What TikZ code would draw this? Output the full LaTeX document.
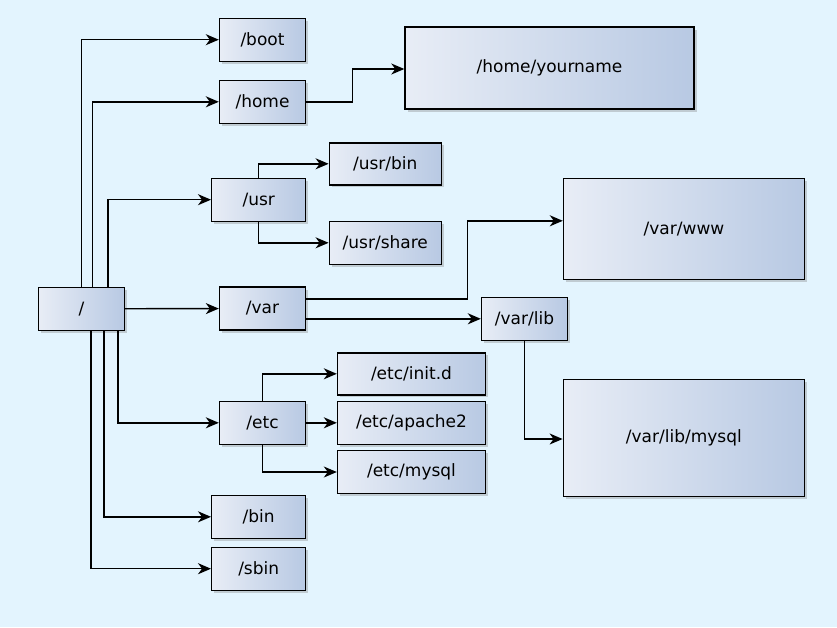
\documentclass[tikz,border=0pt]{standalone}
\usepackage{fontspec}
\setmainfont{DejaVu Sans}
\usetikzlibrary{arrows.meta,shadows}
\definecolor{bgblue}{HTML}{E3F4FE}
\definecolor{boxleft}{HTML}{E8EDF6}
\definecolor{boxright}{HTML}{B8C9E3}
\begin{document}
\begin{tikzpicture}[x=1pt,y=-1pt,
    dir/.style={draw=black, line width=1.4pt, left color=boxleft, right color=boxright,
        drop shadow={shadow xshift=2.5pt, shadow yshift=-2.5pt, opacity=0.35},
        font=\fontsize{17}{20}\selectfont, inner sep=0pt},
    link/.style={draw=black, line width=1.4pt, -{Stealth[length=13pt,width=11pt,inset=4pt]}}]
    \useasboundingbox[fill=bgblue] (0,0) rectangle (837,627);
    % top level
    \node[dir, minimum width=86pt, minimum height=43pt] (root) at (81.5,308.8) {/};
    \node[dir, minimum width=86pt, minimum height=43pt] (boot) at (262.5,39.7) {/boot};
    \node[dir, minimum width=86pt, minimum height=43pt] (home) at (262.5,101.8) {/home};
    \node[dir, minimum width=94pt, minimum height=43pt] (usr) at (258.7,199.7) {/usr};
    \node[dir, minimum width=86pt, minimum height=43pt] (var) at (262.5,308.5) {/var};
    \node[dir, minimum width=86pt, minimum height=43pt] (etc) at (262.5,422.8) {/etc};
    \node[dir, minimum width=94pt, minimum height=43pt] (bin) at (258.7,516.8) {/bin};
    \node[dir, minimum width=94pt, minimum height=43pt] (sbin) at (258.7,568.7) {/sbin};
    % second level
    \node[dir, minimum width=289pt, minimum height=82pt] (yourname) at (549.5,68) {/home/yourname};
    \node[dir, minimum width=112pt, minimum height=42pt] (usrbin) at (385.3,163.8) {/usr/bin};
    \node[dir, minimum width=112pt, minimum height=43pt] (usrshare) at (385.3,242.8) {/usr/share};
    \node[dir, minimum width=241pt, minimum height=101pt] (www) at (684,228.8) {/var/www};
    \node[dir, minimum width=86pt, minimum height=43pt] (varlib) at (524.5,318.8) {/var/lib};
    \node[dir, minimum width=241pt, minimum height=117pt] (libmysql) at (683.8,437.7) {/var/lib/mysql};
    \node[dir, minimum width=148pt, minimum height=42pt] (initd) at (411.5,373.8) {/etc/init.d};
    \node[dir, minimum width=148pt, minimum height=43pt] (apache) at (411.5,422.8) {/etc/apache2};
    \node[dir, minimum width=148pt, minimum height=43pt] (etcmysql) at (411.5,472) {/etc/mysql};
    % links from root
    \draw[link] (root.north) |- (boot);
    \draw[link] ([xshift=11pt]root.north) |- (home);
    \draw[link] ([xshift=26.5pt]root.north) |- (usr);
    \draw[link] (root) -- (var);
    \draw[link] ([xshift=36.5pt]root.south) |- (etc);
    \draw[link] ([xshift=22.5pt]root.south) |- (bin);
    \draw[link] ([xshift=9.5pt]root.south) |- (sbin);
    % links below
    \draw[link] (home.east) -- ++(46,0) |- ([yshift=-1pt]yourname.west);
    \draw[link] (usr.north) |- (usrbin);
    \draw[link] (usr.south) |- (usrshare);
    \draw[link] ([yshift=9.5pt]var.east) -- ++(161,0) |- ([yshift=8pt]www.west);
    \draw[link] (var.east |- varlib) -- (varlib);
    \draw[link] (varlib.south) |- ([yshift=-1.3pt]libmysql.west);
    \draw[link] (etc.north) |- (initd);
    \draw[link] (etc) -- (apache);
    \draw[link] (etc.south) |- (etcmysql);
\end{tikzpicture}
\end{document}
